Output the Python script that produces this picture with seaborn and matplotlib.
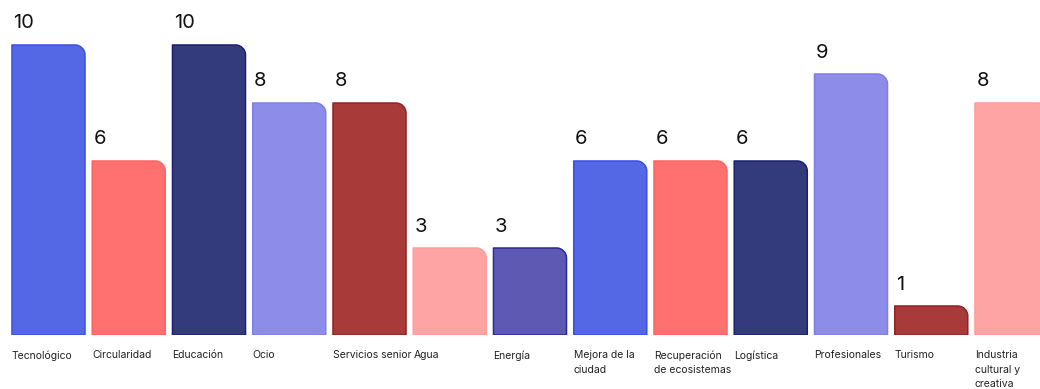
import matplotlib
matplotlib.use("Agg")
import matplotlib.pyplot as plt
from matplotlib.path import Path
from matplotlib.patches import PathPatch
from matplotlib.transforms import blended_transform_factory
import seaborn as sns

categories = [
    "Tecnológico", "Circularidad", "Educación", "Ocio", "Servicios senior",
    "Agua", "Energía", "Mejora de la\nciudad", "Recuperación\nde ecosistemas",
    "Logística", "Profesionales", "Turismo", "Industria\ncultural y\ncreativa",
]
values = [10, 6, 10, 8, 8, 3, 3, 6, 6, 6, 9, 1, 8]
fill_colors = [
    "#5468E6", "#FF7171", "#333B7C", "#8D8CE8", "#A83A3A", "#FFA4A4", "#5E5AB4",
    "#5468E6", "#FF7171", "#333B7C", "#8D8CE8", "#A83A3A", "#FFA4A4",
]
edge_colors = [
    "#3A50E4", "#FF6363", "#1C216C", "#7F7EE6", "#8E2424", "#FF9C9C", "#2C28A4",
    "#3A50E4", "#FF6363", "#1C216C", "#7F7EE6", "#8E2424", "#FF9C9C",
]

sns.set_theme(style="white")
plt.rcParams["font.family"] = ["Inter", "DejaVu Sans"]

W, H = 1040, 389
fig = plt.figure(figsize=(W / 100, H / 100), dpi=100)
pitch_px = 80.25
unit_px = 29.0
base_px = 335
ax = fig.add_axes([0, (H - base_px) / H, 1, (11.5 * unit_px) / H])

sns.barplot(x=categories, y=values, hue=categories, palette=fill_colors,
            legend=False, width=0.91, ax=ax, saturation=1)

ax.set_xlim(-48.5 / pitch_px, (W - 48.5) / pitch_px)
ax.set_ylim(0, 11.5)
ax.axis("off")

rx = 10 / pitch_px
ry = 10 / unit_px
k = 0.5523


def rounded_top_right(x0, w, h):
    x1 = x0 + w
    verts = [
        (x0, 0), (x0, h), (x1 - rx, h),
        (x1 - rx + k * rx, h), (x1, h - ry + k * ry), (x1, h - ry),
        (x1, 0), (x0, 0),
    ]
    codes = [Path.MOVETO, Path.LINETO, Path.LINETO,
             Path.CURVE4, Path.CURVE4, Path.CURVE4,
             Path.LINETO, Path.CLOSEPOLY]
    return Path(verts, codes)


bars = [p for c in ax.containers for p in c]
for i, bar in enumerate(bars):
    x0 = bar.get_x()
    w = bar.get_width()
    h = bar.get_height()
    bar.set_visible(False)
    patch = PathPatch(rounded_top_right(x0, w, h), facecolor=fill_colors[i],
                      edgecolor=edge_colors[i], linewidth=1.1, joinstyle="round")
    ax.add_patch(patch)
    ax.annotate(f"{values[i]}", xy=(x0, h), xytext=(1, 9),
                textcoords="offset points", ha="left", va="bottom",
                fontsize=14.5, color="#111111")
    ax.annotate(categories[i], xy=(x0, 0), xytext=(0, -11),
                textcoords="offset points", ha="left", va="top",
                fontsize=7.5, color="#222222", linespacing=1.55,
                annotation_clip=False)

fig.savefig("out.png", dpi=100, facecolor="white")
